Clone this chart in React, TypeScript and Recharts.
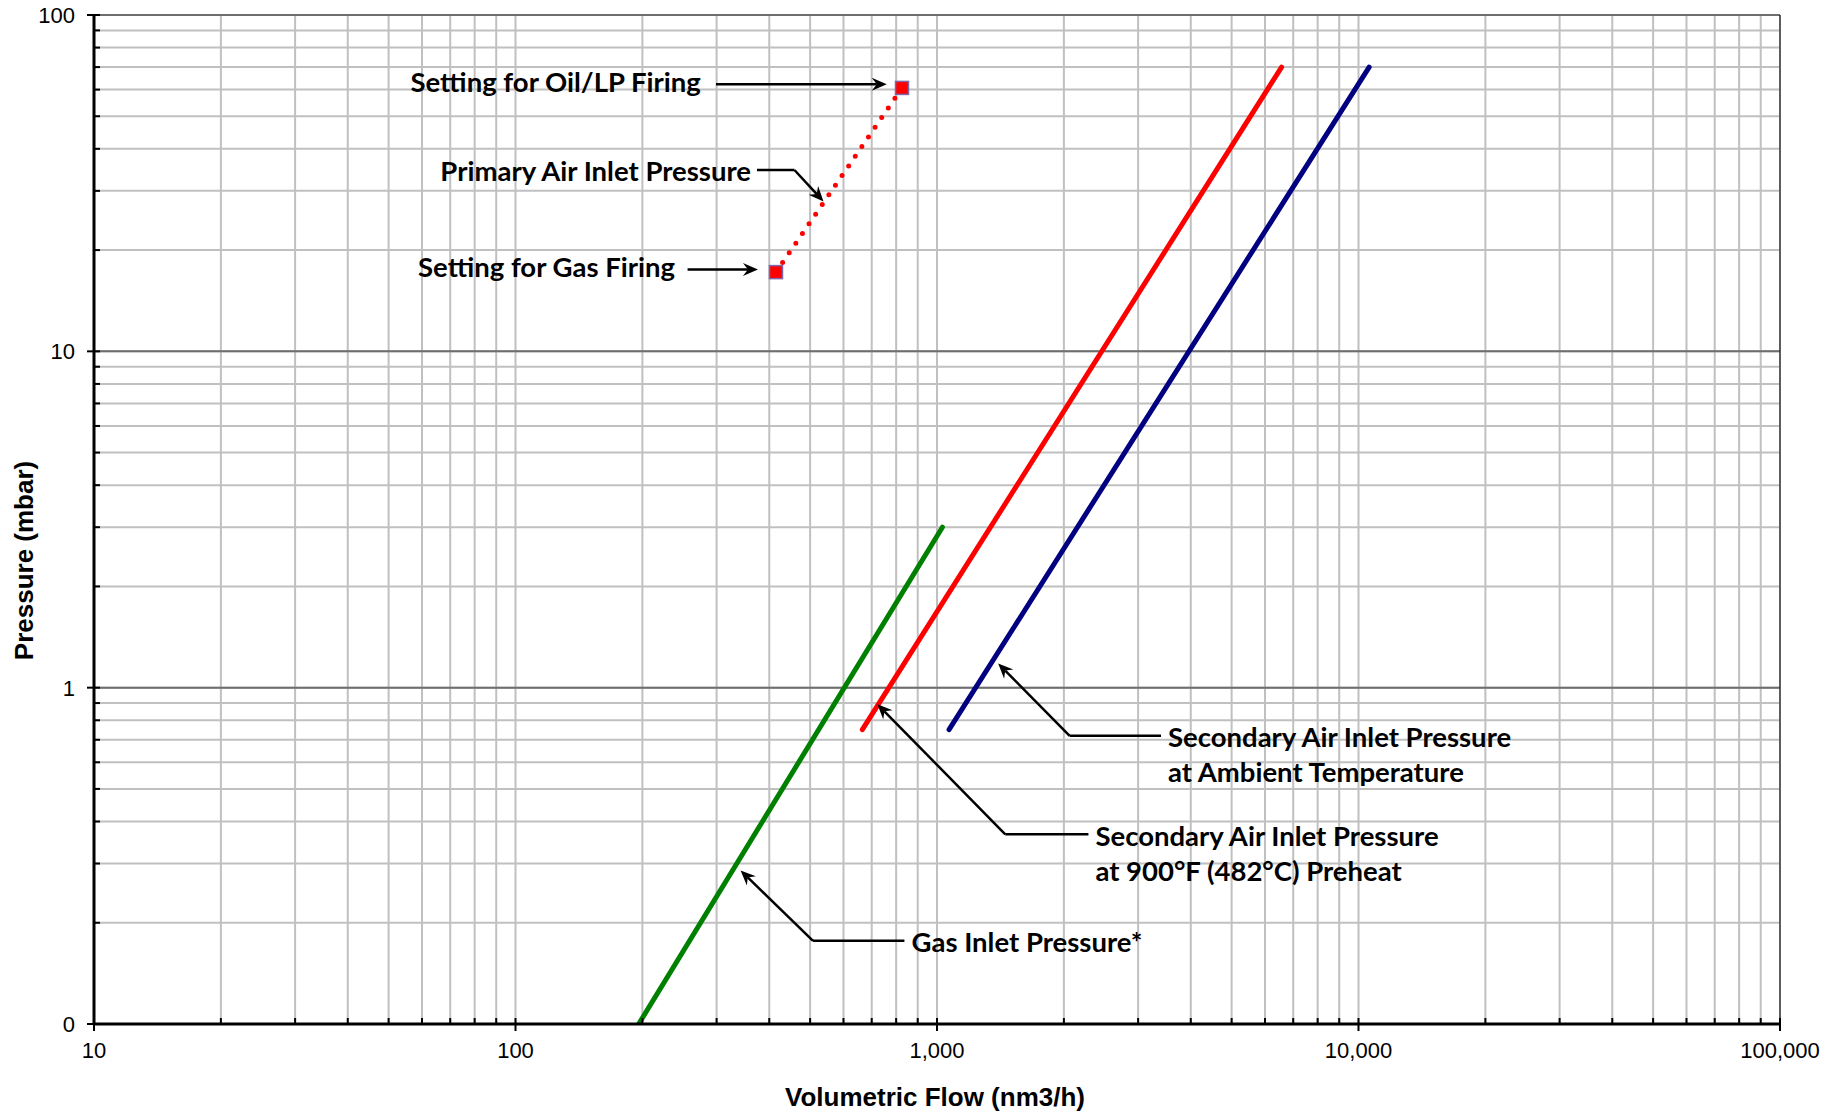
import React from 'react'
import {
  LineChart, Line, XAxis, YAxis, CartesianGrid, ReferenceLine, ReferenceDot
} from 'recharts'

// log axes: every 1..9 step of each decade gets a grid line, decades get labels
const flowTicks = [
  10, 20, 30, 40, 50, 60, 70, 80, 90,
  100, 200, 300, 400, 500, 600, 700, 800, 900,
  1000, 2000, 3000, 4000, 5000, 6000, 7000, 8000, 9000,
  10000, 20000, 30000, 40000, 50000, 60000, 70000, 80000, 90000,
  100000,
]
const flowMajor = [10, 100, 1000, 10000, 100000]
const flowLabels: Record<string, string> = {
  10: '10', 100: '100', 1000: '1,000', 10000: '10,000', 100000: '100,000',
}

const pressureTicks = [
  0.1, 0.2, 0.3, 0.4, 0.5, 0.6, 0.7, 0.8, 0.9,
  1, 2, 3, 4, 5, 6, 7, 8, 9,
  10, 20, 30, 40, 50, 60, 70, 80, 90,
  100,
]
const pressureMajor = [0.1, 1, 10, 100]
const pressureLabels: Record<string, string> = { 0.1: '0', 1: '1', 10: '10', 100: '100' }

// flow (nm3/h) vs pressure (mbar)
const gasInlet = [{ flow: 196, pressure: 0.1 }, { flow: 1030, pressure: 3 }]
const secondaryPreheat = [{ flow: 665, pressure: 0.75 }, { flow: 6570, pressure: 70 }]
const secondaryAmbient = [{ flow: 1068, pressure: 0.75 }, { flow: 10600, pressure: 70 }]
const primaryAir = [{ flow: 415, pressure: 17.2 }, { flow: 826, pressure: 60.7 }]

type Callout = {
  lines: string[]
  anchor: 'start' | 'end'
  at: [number, number]
  path: [number, number][]
}

// leader lines in data units, last point is the arrow tip
const callouts: Callout[] = [
  { lines: ['Setting for Oil/LP Firing'], anchor: 'end', at: [275, 63.7], path: [[299, 62.2], [760, 62.2]] },
  { lines: ['Primary Air Inlet Pressure'], anchor: 'end', at: [362, 34.6], path: [[374, 34.6], [459, 34.6], [538, 27.9]] },
  { lines: ['Setting for Gas Firing'], anchor: 'end', at: [239, 17.9], path: [[256, 17.5], [376, 17.5]] },
  { lines: ['Gas Inlet Pressure*'], anchor: 'start', at: [870, 0.1767], path: [[837, 0.1767], [508, 0.1767], [342, 0.286]] },
  {
    lines: ['Secondary Air Inlet Pressure', 'at 900°F (482°C) Preheat'], anchor: 'start',
    at: [2376, 0.3637], path: [[2287, 0.3665], [1452, 0.3665], [722, 0.893]],
  },
  {
    lines: ['Secondary Air Inlet Pressure', 'at Ambient Temperature'], anchor: 'start',
    at: [3532, 0.719], path: [[3400, 0.719], [2064, 0.719], [1397, 1.18]],
  },
]

const AXIS_FONT = '"Liberation Sans", Arial, sans-serif'
const NOTE_FONT = 'Lato, "Open Sans", sans-serif'

const FlowTick = (props: any) => {
  const { x, y, payload } = props
  const major = flowMajor.includes(payload.value)
  return (
    <g>
      <line x1={x} x2={x} y1={major ? y + 7 : y} y2={y - 6} stroke="#000" strokeWidth={2} />
      {major && (
        <text x={x} y={y + 34} textAnchor="middle" fontFamily={AXIS_FONT} fontSize={22} fill="#000">
          {flowLabels[payload.value]}
        </text>
      )}
    </g>
  )
}

const PressureTick = (props: any) => {
  const { x, y, payload } = props
  const major = pressureMajor.includes(payload.value)
  return (
    <g>
      <line x1={major ? x - 7 : x} x2={x + 6} y1={y} y2={y} stroke="#000" strokeWidth={2} />
      {major && (
        <text x={x - 19} y={y + 8} textAnchor="end" fontFamily={AXIS_FONT} fontSize={22} fill="#000">
          {pressureLabels[payload.value]}
        </text>
      )}
    </g>
  )
}

const plainSegment = (p: any) => (
  <line x1={p.x1} y1={p.y1} x2={p.x2} y2={p.y2} stroke="#000" strokeWidth={2.5} />
)

// segment ending in an Excel-style stealth arrow head
const arrowSegment = (p: any) => {
  const dx = p.x2 - p.x1
  const dy = p.y2 - p.y1
  const len = Math.hypot(dx, dy) || 1
  const ux = dx / len
  const uy = dy / len
  const L = 15, W = 6.5, N = 10
  const bx = p.x2 - ux * L, by = p.y2 - uy * L
  const pts = [
    [p.x2, p.y2],
    [bx - uy * W, by + ux * W],
    [p.x2 - ux * N, p.y2 - uy * N],
    [bx + uy * W, by - ux * W],
  ].map(q => q.join(',')).join(' ')
  return (
    <g>
      <line x1={p.x1} y1={p.y1} x2={p.x2 - ux * N} y2={p.y2 - uy * N} stroke="#000" strokeWidth={2.5} />
      <polygon points={pts} fill="#000" />
    </g>
  )
}

const noteText = (c: Callout) => (p: any) => (
  <text x={p.cx} y={p.cy} textAnchor={c.anchor} dominantBaseline="central"
    fontFamily={NOTE_FONT} fontWeight={700} fontSize={27.5} fill="#000">
    {c.lines.map((s, i) => (
      <tspan key={i} x={p.cx} dy={i === 0 ? 0 : 35}>{s}</tspan>
    ))}
  </text>
)

const squareDot = (p: any) => (
  <rect key={`sq-${p.index}`} x={p.cx - 6.5} y={p.cy - 6.5} width={13} height={13}
    fill="#FF0000" stroke="#7E66A8" strokeWidth={1.5} />
)

export default function App() {
  return (
    <div style={{ position: 'absolute', left: 0, top: 0, width: 1837, height: 1113, background: '#fff' }}>
      <LineChart width={1837} height={1113} margin={{ top: 15, right: 57, bottom: 59, left: 0 }}>
        <XAxis
          dataKey="flow" type="number" scale="log" domain={[10, 100000]} allowDataOverflow
          ticks={flowTicks} interval={0} height={30} tickSize={0} tickMargin={0}
          tickLine={false} axisLine={{ stroke: '#000', strokeWidth: 3 }} tick={<FlowTick />}
          label={{
            content: (p: any) => (
              <text x={p.viewBox.x + p.viewBox.width / 2 - 2} y={p.viewBox.y + 82} textAnchor="middle"
                fontFamily={AXIS_FONT} fontWeight={700} fontSize={26} fill="#000">
                Volumetric Flow (nm3/h)
              </text>
            ),
          }}
        />
        <YAxis
          dataKey="pressure" type="number" scale="log" domain={[0.1, 100]} allowDataOverflow
          ticks={pressureTicks} interval={0} width={94} tickSize={0} tickMargin={0}
          tickLine={false} axisLine={{ stroke: '#000', strokeWidth: 3 }} tick={<PressureTick />}
          label={{
            content: (p: any) => {
              const cx = p.viewBox.x + 33
              const cy = p.viewBox.y + p.viewBox.height / 2 + 41
              return (
                <text x={cx} y={cy} transform={`rotate(-90, ${cx}, ${cy})`} textAnchor="middle"
                  fontFamily={AXIS_FONT} fontWeight={700} fontSize={26} fill="#000">
                  Pressure (mbar)
                </text>
              )
            },
          }}
        />
        <XAxis xAxisId="major" hide type="number" scale="log" domain={[10, 100000]} allowDataOverflow ticks={flowMajor} />
        <YAxis yAxisId="major" hide type="number" scale="log" domain={[0.1, 100]} allowDataOverflow ticks={pressureMajor} />

        <CartesianGrid stroke="#C0C0C0" strokeWidth={2} />
        <CartesianGrid xAxisId="major" yAxisId="major" vertical={false} stroke="#6E6E6E" strokeWidth={2} />
        <CartesianGrid xAxisId="major" yAxisId="major" horizontal={false} stroke="#1A1A1A" strokeWidth={1.2} />

        <Line data={gasInlet} dataKey="pressure" stroke="#008000" strokeWidth={5} strokeLinecap="round"
          dot={false} activeDot={false} isAnimationActive={false} />
        <Line data={secondaryPreheat} dataKey="pressure" stroke="#FF0000" strokeWidth={5} strokeLinecap="round"
          dot={false} activeDot={false} isAnimationActive={false} />
        <Line data={secondaryAmbient} dataKey="pressure" stroke="#000080" strokeWidth={5} strokeLinecap="round"
          dot={false} activeDot={false} isAnimationActive={false} />
        <Line data={primaryAir} dataKey="pressure" stroke="#FF0000" strokeWidth={5} strokeLinecap="round"
          strokeDasharray="0 11.7" dot={squareDot} activeDot={false} isAnimationActive={false} />

        {callouts.flatMap((c, ci) =>
          c.path.slice(1).map((pt, i) => (
            <ReferenceLine
              key={`seg-${ci}-${i}`}
              segment={[{ x: c.path[i][0], y: c.path[i][1] }, { x: pt[0], y: pt[1] }]}
              shape={i === c.path.length - 2 ? arrowSegment : plainSegment}
            />
          ))
        )}
        {callouts.map((c, ci) => (
          <ReferenceDot key={`note-${ci}`} x={c.at[0]} y={c.at[1]} r={0} shape={noteText(c)} />
        ))}
      </LineChart>
    </div>
  )
}
